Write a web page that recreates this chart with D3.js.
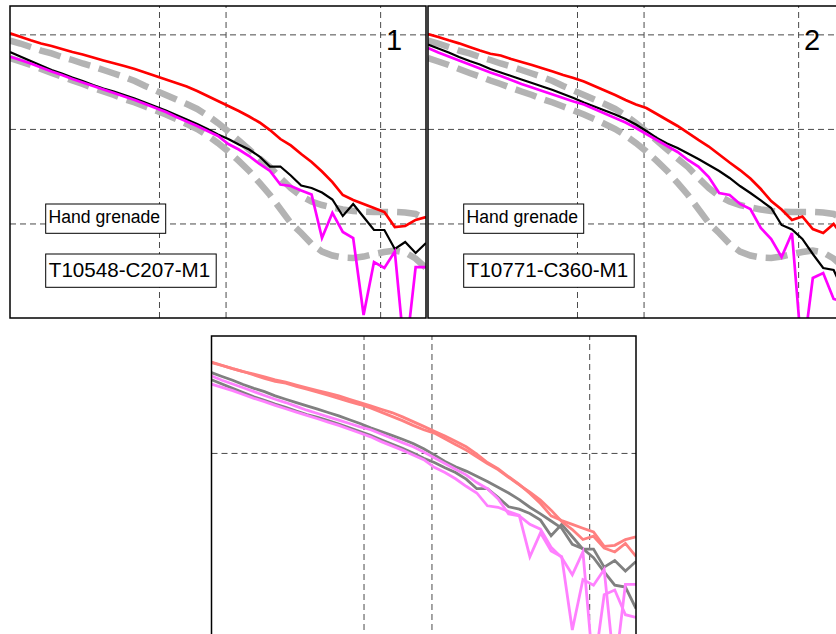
<!DOCTYPE html>
<html>
<head>
<meta charset="utf-8">
<script src="https://cdn.jsdelivr.net/npm/d3@7"></script>
<style>
  body { margin: 0; background: #fff; }
  svg { display: block; }
  text { font-family: "Liberation Sans", Arial, sans-serif; fill: #000; }
</style>
</head>
<body>
<svg id="chart" width="836" height="634"></svg>
<script>
// Frequency axis (Hz), log-spaced analysis bands
const freqHz = [21.2, 23.6, 26.3, 29.3, 32.7, 36.4, 40.6, 45.2, 50.4, 56.1,
  62.6, 69.7, 77.7, 86.6, 96.5, 107.5, 119.8, 133.5, 148.8, 165.8,
  184.8, 205.9, 229.5, 255.7, 285.0, 317.6, 353.9, 394.4, 439.5, 489.8,
  545.8, 608.2, 677.8, 755.3, 841.7, 937.9, 1045, 1165, 1298, 1447, 1612];

// Reference envelope for the source class (level, dB)
const envUpper = [-10.65, -10.97, -11.34, -11.71, -12.02, -12.39, -12.71, -13.08, -13.40, -13.77,
  -14.14, -14.51, -14.93, -15.46, -15.94, -16.41, -16.89, -17.37, -17.89, -18.58,
  -19.38, -20.27, -21.23, -22.18, -23.13, -24.03, -25.19, -26.25, -27.10, -27.68,
  -28.05, -28.31, -28.52, -28.68, -28.74, -28.79, -28.79, -28.79, -28.84, -29.00, -29.53];
const envLower = [-12.50, -12.87, -13.24, -13.66, -14.09, -14.46, -14.88, -15.25, -15.67, -16.04,
  -16.41, -16.84, -17.21, -17.63, -18.05, -18.48, -18.95, -19.48, -20.01, -20.70,
  -21.49, -22.39, -23.39, -24.45, -25.72, -26.99, -28.47, -29.95, -31.01, -32.17,
  -32.97, -33.39, -33.60, -33.65, -33.50, -33.23, -33.02, -32.86, -33.07, -33.71, -34.71];

// Record 1 spectra
const red1 = [-9.89, -10.26, -10.63, -10.97, -11.23, -11.55, -11.87, -12.13, -12.45, -12.76,
  -13.06, -13.35, -13.66, -14.03, -14.40, -14.77, -15.14, -15.51, -15.99, -16.52,
  -17.05, -17.58, -18.11, -18.69, -19.32, -20.12, -21.07, -21.75, -22.65, -23.50,
  -24.50, -25.62, -26.99, -27.52, -27.94, -28.37, -28.79, -30.38, -30.27, -29.63, -29.32];
const black1 = [-11.87, -12.34, -12.82, -13.29, -13.77, -14.14, -14.56, -14.93, -15.36, -15.73,
  -16.04, -16.41, -16.78, -17.21, -17.63, -18.05, -18.53, -19.01, -19.48, -20.01,
  -20.59, -21.07, -21.65, -22.18, -22.92, -23.98, -23.98, -24.93, -25.99, -26.25,
  -26.73, -27.47, -29.21, -27.94, -29.32, -30.69, -30.69, -32.70, -31.96, -33.13, -32.07];
const magenta1 = [-12.36, -12.71, -13.08, -13.50, -13.93, -14.30, -14.72, -15.09, -15.46, -15.83,
  -16.20, -16.57, -16.94, -17.37, -17.79, -18.21, -18.74, -19.22, -19.69, -20.22,
  -20.75, -21.60, -22.18, -22.87, -23.71, -24.45, -25.88, -26.04, -26.51, -26.94,
  -31.54, -28.89, -30.90, -31.54, -39.68, -34.08, -34.71, -32.97, -44.44, -34.61, -34.61];

// Record 2 spectra
const red2 = [-9.96, -10.28, -10.63, -10.95, -11.34, -11.71, -12.05, -12.24, -12.61, -12.92,
  -13.24, -13.59, -13.93, -14.30, -14.62, -14.99, -15.46, -15.94, -16.41, -16.94,
  -17.42, -17.79, -18.42, -19.06, -19.69, -20.43, -21.17, -21.86, -22.71, -23.55,
  -24.35, -25.25, -26.36, -27.63, -28.52, -29.63, -29.26, -30.59, -31.01, -30.06, -31.50];
const black2 = [-11.07, -11.50, -11.92, -12.39, -12.82, -13.19, -13.66, -14.03, -14.40, -14.77,
  -15.14, -15.51, -15.88, -16.31, -16.73, -17.21, -17.63, -18.05, -18.48, -18.95,
  -19.53, -20.22, -20.96, -21.54, -22.02, -22.60, -23.18, -23.82, -24.45, -25.19,
  -26.04, -26.78, -27.57, -28.37, -30.16, -30.64, -31.64, -33.23, -34.71, -34.92, -37.30];
const magenta2 = [-11.44, -11.92, -12.34, -12.76, -13.19, -13.61, -14.03, -14.40, -14.83, -15.25,
  -15.62, -15.99, -16.36, -16.73, -17.10, -17.42, -17.89, -18.37, -18.85, -19.32,
  -19.90, -20.54, -21.17, -21.81, -22.44, -23.29, -23.98, -25.09, -26.78, -26.99,
  -27.94, -28.47, -30.48, -31.64, -33.55, -31.01, -44.44, -35.77, -35.24, -37.99, -38.30];

// Grid tick values and labels
const xGridTicks = [100, 200, 1000];
const yGridTicksTop = [-30, -20, -10];
const yGridTicksBottom = [-20];
const panelNumbers = ["1", "2"];
const sourceLabel = "Hand grenade";
const recordIds = ["T10548-C207-M1", "T10771-C360-M1"];

const svg = d3.select("#chart");

function makePanel(id, left, top, width, height, yDomain, yTicks) {
  const x = d3.scaleLog().domain([freqHz[0], freqHz[freqHz.length - 1]]).range([left, left + width]);
  const y = d3.scaleLinear().domain(yDomain).range([top + height, top]);
  const g = svg.append("g");
  g.append("clipPath").attr("id", id).append("rect")
    .attr("x", left).attr("y", top).attr("width", width).attr("height", height);

  const gx = g.append("g").attr("transform", `translate(0,${top + height})`)
    .call(d3.axisBottom(x).tickValues(xGridTicks).tickSize(-height).tickFormat(""));
  const gy = g.append("g").attr("transform", `translate(${left},0)`)
    .call(d3.axisLeft(y).tickValues(yTicks).tickSize(-width).tickFormat(""));
  [gx, gy].forEach(a => {
    a.select(".domain").remove();
    a.selectAll(".tick line").attr("stroke", "#4a4a4a").attr("stroke-width", 1)
      .attr("stroke-dasharray", "6,4");
  });

  const plot = g.append("g").attr("clip-path", `url(#${id})`);
  const line = d3.line().x((d, i) => x(freqHz[i])).y(d => y(d));
  const frame = () => g.append("rect")
    .attr("x", left).attr("y", top).attr("width", width).attr("height", height)
    .attr("fill", "none").attr("stroke", "#000").attr("stroke-width", 1.5);
  return { x, y, g, plot, line, frame, left, top };
}

function drawSeries(p, data, color, width, dash) {
  const path = p.plot.append("path").datum(data)
    .attr("d", p.line).attr("fill", "none")
    .attr("stroke", color).attr("stroke-width", width)
    .attr("stroke-linejoin", "miter");
  if (dash) path.attr("stroke-dasharray", dash);
}

function labelBox(p, bx, by, bw, bh, tx, ty, size, str) {
  p.g.append("rect").attr("x", p.left + bx).attr("y", by).attr("width", bw).attr("height", bh)
    .attr("fill", "#fff").attr("stroke", "#000").attr("stroke-width", 1);
  p.g.append("text").attr("x", p.left + tx).attr("y", ty)
    .attr("font-size", size).text(str);
}

// Top panels: each record against the class envelope
const records = [
  { red: red1, black: black1, magenta: magenta1 },
  { red: red2, black: black2, magenta: magenta2 }
];
const topLefts = [10, 428];
records.forEach((rec, k) => {
  const p = makePanel("clipTop" + k, topLefts[k], 6, 416, 312, [-40, -7], yGridTicksTop);
  drawSeries(p, envUpper, "#b3b3b3", 6.5, "22,9");
  drawSeries(p, envLower, "#b3b3b3", 6.5, "22,9");
  drawSeries(p, rec.red, "#ff0000", 2.7);
  drawSeries(p, rec.black, "#000000", 2.2);
  drawSeries(p, rec.magenta, "#ff00ff", 2.7);
  labelBox(p, 35.7, 204, 120, 29.3, 38.6, 222.7, "17.6px", sourceLabel);
  labelBox(p, 35.7, 254, 170.5, 33.3, 38.8, 276.7, "20.6px", recordIds[k]);
  p.g.append("text").attr("x", p.left + 376).attr("y", 49.5)
    .attr("font-size", "29px").text(panelNumbers[k]);
  p.frame();
});

// Bottom panel: both records overlaid in lighter tones
const pb = makePanel("clipBottom", 211.5, 336, 424.5, 304, [-40.8, -7], yGridTicksBottom);
drawSeries(pb, black1, "#808080", 2.8);
drawSeries(pb, black2, "#808080", 2.8);
drawSeries(pb, red1, "#ff8080", 2.8);
drawSeries(pb, red2, "#ff8080", 2.8);
drawSeries(pb, magenta1, "#ff80ff", 2.8);
drawSeries(pb, magenta2, "#ff80ff", 2.8);
pb.frame();
</script>
</body>
</html>
